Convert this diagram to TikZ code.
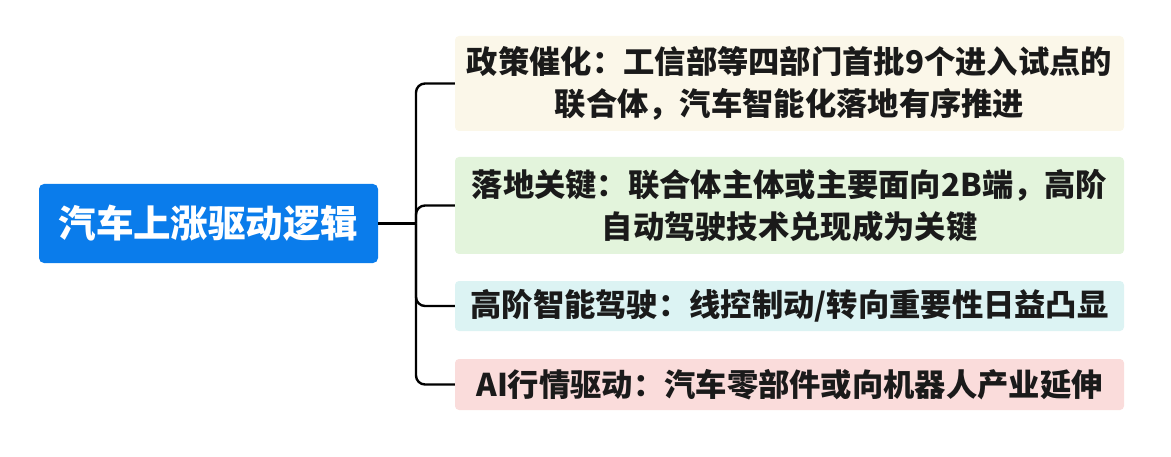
\documentclass[tikz,border=0pt]{standalone}
\usepackage{fontspec}
\setmainfont{Noto Sans CJK SC}
\definecolor{rootblue}{HTML}{0A7CEB}
\definecolor{txt}{HTML}{1A1A1A}
\definecolor{creamfill}{HTML}{FBF7E9}
\definecolor{greenfill}{HTML}{E3F4DC}
\definecolor{cyanfill}{HTML}{DCF3F3}
\definecolor{pinkfill}{HTML}{FADCDB}
\tikzset{
  rootbox/.style={fill=rootblue, rounded corners=5pt, text=white, font=\fontsize{37.5}{42}\selectfont\bfseries, minimum width=339pt, minimum height=79pt, inner sep=0pt, align=center},
  branchbox/.style={rounded corners=4pt, text=txt, font=\fontsize{31.3}{42}\selectfont\bfseries, minimum width=669pt, inner sep=0pt, align=center},
  conn/.style={draw=black, line width=2.4pt, rounded corners=9pt}
}
\begin{document}
\begin{tikzpicture}[x=1pt,y=1pt]
\useasboundingbox (0,0) rectangle (1171,456);
\node[rootbox] (root) at (208.5,232.5) {汽车上涨驱动逻辑};
\node[branchbox, fill=creamfill, minimum height=95pt] (b1) at (789.5,372.5) {政策催化：工信部等四部门首批9个进入试点的\\联合体，汽车智能化落地有序推进};
\node[branchbox, fill=greenfill, minimum height=97pt] (b2) at (789.5,250.5) {落地关键：联合体主体或主要面向2B端，高阶\\自动驾驶技术兑现成为关键};
\node[branchbox, fill=cyanfill, minimum height=50pt] (b3) at (789.5,150) {高阶智能驾驶：线控制动/转向重要性日益凸显};
\node[branchbox, fill=pinkfill, minimum height=51pt] (b4) at (789.5,71.5) {AI行情驱动：汽车零部件或向机器人产业延伸};
\coordinate (hub) at (416,232.5);
\draw[line width=2.4pt] (root.east) -- (hub);
\draw[conn] (hub) |- (b1.west);
\draw[conn] (hub) |- (b2.west);
\draw[conn] (hub) |- (b3.west);
\draw[conn] (hub) |- (b4.west);
\end{tikzpicture}
\end{document}
